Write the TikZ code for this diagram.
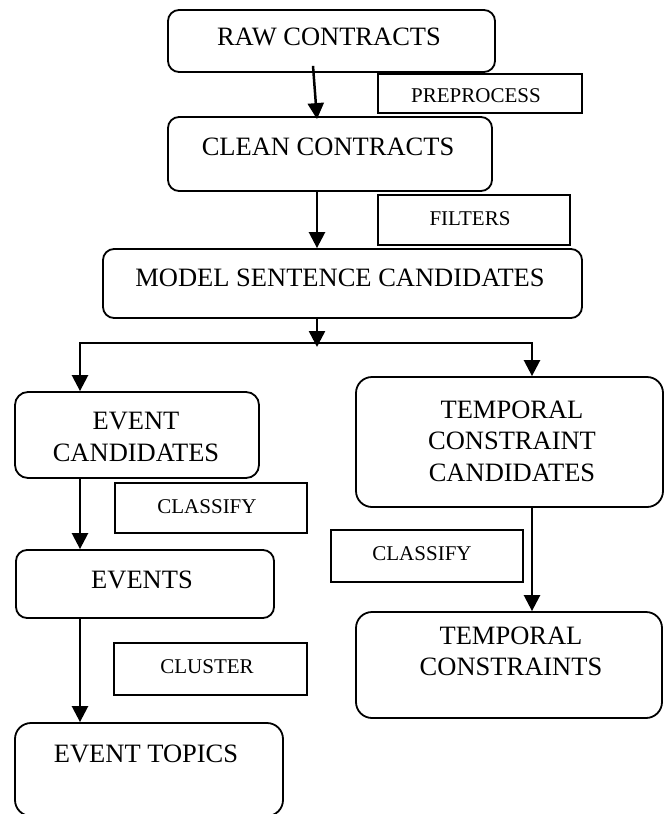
\documentclass[tikz,border=0pt]{standalone}
\usepackage{fontspec}
\setmainfont{Liberation Serif}
\usetikzlibrary{arrows.meta,calc}
\begin{document}
\begin{tikzpicture}[x=1pt,y=-1pt,
  rbox/.style={draw=black,line width=1.8pt,rounded corners=11pt,inner sep=0pt},
  rboxl/.style={rbox,rounded corners=16pt},
  sbox/.style={draw=black,line width=1.8pt,inner sep=0pt},
  big/.style={font=\fontsize{26.5}{31.5}\selectfont,align=center,inner sep=0pt},
  small/.style={font=\fontsize{21}{25}\selectfont,align=center,inner sep=0pt},
  conn/.style={line width=2.5pt},
  arr/.style={conn,-{Triangle[width=16pt,length=16pt]}},
  arrtwo/.style={conn,{Triangle[width=16pt,length=16pt]}-{Triangle[width=16pt,length=16pt]}}
]
\useasboundingbox (0,0) rectangle (664,814);
\clip (0,0) rectangle (664,814);

% boxes
\node[rbox,minimum width=327pt,minimum height=62pt] (raw) at (331.5,41) {};
\node[sbox,minimum width=204pt,minimum height=39pt] (pre) at (480,93.5) {};
\node[rbox,minimum width=324pt,minimum height=74pt] (clean) at (330,154) {};
\node[sbox,minimum width=192pt,minimum height=50pt] (filt) at (474,220) {};
\node[rbox,minimum width=479pt,minimum height=69pt] (model) at (342.5,283.5) {};
\node[rbox,rounded corners=13pt,minimum width=244pt,minimum height=86pt] (ec) at (137,435) {};
\node[rboxl,minimum width=307pt,minimum height=130pt] (tcc) at (509.5,442) {};
\node[sbox,minimum width=192pt,minimum height=50pt] (clsa) at (211,508) {};
\node[rbox,minimum width=258pt,minimum height=68pt] (events) at (145,584) {};
\node[sbox,minimum width=192pt,minimum height=52pt] (clsb) at (427,556) {};
\node[rboxl,minimum width=306pt,minimum height=106pt] (tc) at (509,665) {};
\node[sbox,minimum width=193pt,minimum height=52pt] (clu) at (210.5,669) {};
\node[rboxl,minimum width=268pt,minimum height=93pt] (et) at (149,769.5) {};

% texts
\node[big] (rawt) at (329,37) {RAW CONTRACTS};
\node[big] (cleant) at (328,147) {CLEAN CONTRACTS};
\node[big] (modelt) at (340,278) {MODEL SENTENCE CANDIDATES};
\node[big] (ect) at (136,437) {EVENT\\CANDIDATES};
\node[big] (eventst) at (142,580) {EVENTS};
\node[big] (tcct) at (512,441) {TEMPORAL\\CONSTRAINT\\CANDIDATES};
\node[big] (tct) at (511,651.5) {TEMPORAL\\CONSTRAINTS};
\node[big] (ett) at (146,754) {EVENT TOPICS};
\node[small] (pret) at (476,96) {PREPROCESS};
\node[small] (filtt) at (470,219) {FILTERS};
\node[small] (clsat) at (207,507) {CLASSIFY};
\node[small] (clsbt) at (422,554) {CLASSIFY};
\node[small] (clut) at (207,667) {CLUSTER};

% connectors
\coordinate (spine) at (317,0);
\coordinate (split) at (317,347);
\coordinate (hl) at (80,343);
\coordinate (hr) at (532,343);

\draw[arr] ($(raw.south)+(-18.5,-7)$) -- ($(clean.north)+(-13,3)$);
\draw[arr] (spine |- clean.south) -- (spine |- model.north);
\draw[arr] (spine |- model.south) -- (split);
\draw[arrtwo] (hl |- ec.north) -- (hl) -- (hr) -- (hr |- tcc.north);
\draw[arr] (hl |- ec.south) -- (hl |- events.north);
\draw[arr] (hl |- events.south) -- (hl |- et.north);
\draw[arr] (hr |- tcc.south) -- (hr |- tc.north);
\end{tikzpicture}
\end{document}
